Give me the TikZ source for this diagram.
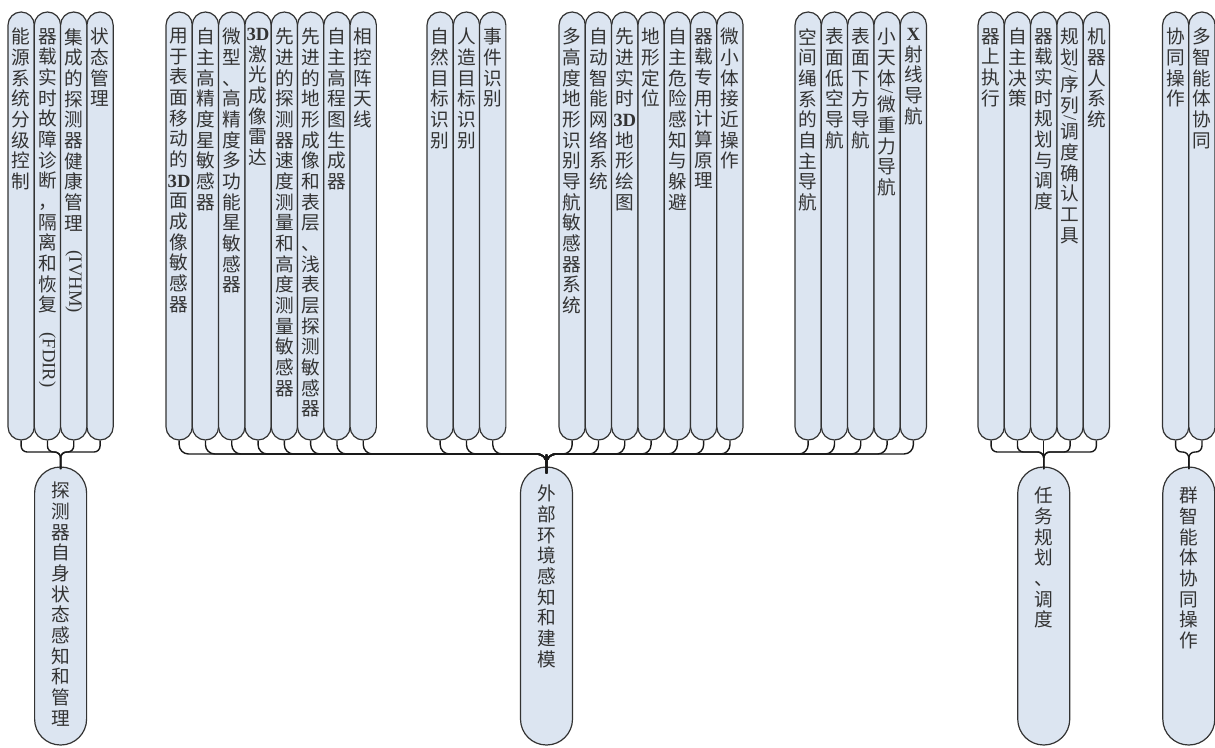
\documentclass[tikz,border=0pt]{standalone}
\usepackage{fontspec}
\usepackage{graphicx}
\setmainfont{Noto Sans CJK SC}
\newfontfamily\lat{Liberation Serif}
\definecolor{pillfill}{HTML}{DCE5F1}
\definecolor{pillline}{HTML}{333333}
\definecolor{txtcol}{HTML}{333333}
\ExplSyntaxOn
\cs_new_protected:Npn \__vt_item:n #1
  {
    \tl_if_eq:nnTF {#1} {/}
      {
        \skip_vertical:n {-13pt}
        \hbox_to_wd:nn {20pt} { \hss \rotatebox{-90}{\lat /} \hss }
        \skip_vertical:n {2.2pt}
      }
      { \hbox_to_wd:nn {20pt} { \hss #1 \hss } }
  }
\NewDocumentCommand \vt { m }
  {
    \vbox:n
      {
        \baselineskip=15.5pt \lineskiplimit=-100pt \lineskip=0pt \relax
        \tl_map_inline:nn {#1} { \__vt_item:n {##1} }
      }
  }
\ExplSyntaxOff
\begin{document}
\begin{tikzpicture}[x=0.75pt,y=-0.75pt,
  pill/.style={draw=pillline, fill=pillfill, line width=0.9pt, minimum width=19.7pt,
    minimum height=321pt, rounded corners=9.8pt, inner sep=0pt},
  bigpill/.style={draw=pillline, fill=pillfill, line width=0.9pt, minimum width=39pt,
    minimum height=208.5pt, rounded corners=19.4pt, inner sep=0pt},
  lbl/.style={anchor=north, inner sep=0pt, text=txtcol, font=\fontsize{14pt}{15.5pt}\selectfont},
  conn/.style={draw=black!90, line width=1.05pt}]
\useasboundingbox (0,0) rectangle (1215,747);

% ---------- top pills ----------
\foreach \n/\x in {g1a/21.15,g1b/47.45,g1c/73.75,g1d/100.05,
  g2a/179.15,g2b/205.45,g2c/231.75,g2d/258.05,g2e/284.35,g2f/310.65,g2g/336.95,g2h/363.25,
  g3a/440.15,g3b/466.45,g3c/492.75,
  g4a/572.15,g4b/598.45,g4c/624.75,g4d/651.05,g4e/677.35,g4f/703.65,g4g/729.95,
  g5a/808.15,g5b/834.45,g5c/860.75,g5d/887.05,g5e/913.35,
  g6a/991.15,g6b/1017.45,g6c/1043.75,g6d/1070.05,g6e/1096.35,
  g7a/1175.65,g7b/1201.95}
  \node[pill] (\n) at (\x,226) {};

% ---------- bottom pills ----------
\node[bigpill] (B1) at (60.6,606) {};
\node[bigpill] (B2) at (546.5,606) {};
\node[bigpill] (B3) at (1043.75,606) {};
\node[bigpill] (B4) at (1188.8,606) {};

% ---------- labels ----------
\node[lbl] (t1a) at (21.15,28) {\vt{能源系统分级控制}};
\node[lbl] (t1b) at (47.45,28) {\vt{器载实时故障诊断，隔离和恢复{\rotatebox{-90}{\lat (FDIR)}}}};
\node[lbl] (t1c) at (73.75,28) {\vt{集成的探测器健康管理{\rotatebox{-90}{\lat (IVHM)}}}};
\node[lbl] (t1d) at (100.05,28) {\vt{状态管理}};

\node[lbl] (t2a) at (179.15,28) {\vt{用于表面移动的{\lat\bfseries 3D}面成像敏感器}};
\node[lbl] (t2b) at (205.45,28) {\vt{自主高精度星敏感器}};
\node[lbl] (t2c) at (231.75,28) {\vt{微型、高精度多功能星敏感器}};
\node[lbl] (t2d) at (258.05,28) {\vt{{\lat\bfseries 3D}激光成像雷达}};
\node[lbl] (t2e) at (284.35,28) {\vt{先进的探测器速度测量和高度测量敏感器}};
\node[lbl] (t2f) at (310.65,28) {\vt{先进的地形成像和表层、浅表层探测敏感器}};
\node[lbl] (t2g) at (336.95,28) {\vt{自主高程图生成器}};
\node[lbl] (t2h) at (363.25,28) {\vt{相控阵天线}};

\node[lbl] (t3a) at (440.15,28) {\vt{自然目标识别}};
\node[lbl] (t3b) at (466.45,28) {\vt{人造目标识别}};
\node[lbl] (t3c) at (492.75,28) {\vt{事件识别}};

\node[lbl] (t4a) at (572.15,28) {\vt{多高度地形识别导航敏感器系统}};
\node[lbl] (t4b) at (598.45,28) {\vt{自动智能网络系统}};
\node[lbl] (t4c) at (624.75,28) {\vt{先进实时{\lat\bfseries 3D}地形绘图}};
\node[lbl] (t4d) at (651.05,28) {\vt{地形定位}};
\node[lbl] (t4e) at (677.35,28) {\vt{自主危险感知与躲避}};
\node[lbl] (t4f) at (703.65,28) {\vt{器载专用计算原理}};
\node[lbl] (t4g) at (729.95,28) {\vt{微小体接近操作}};

\node[lbl] (t5a) at (808.15,28) {\vt{空间绳系的自主导航}};
\node[lbl] (t5b) at (834.45,28) {\vt{表面低空导航}};
\node[lbl] (t5c) at (860.75,28) {\vt{表面下方导航}};
\node[lbl] (t5d) at (887.05,28) {\vt{小天体/微重力导航}};
\node[lbl] (t5e) at (913.35,28) {\vt{{\lat\bfseries X}射线导航}};

\node[lbl] (t6a) at (991.15,28) {\vt{器上执行}};
\node[lbl] (t6b) at (1017.45,28) {\vt{自主决策}};
\node[lbl] (t6c) at (1043.75,28) {\vt{器载实时规划与调度}};
\node[lbl] (t6d) at (1070.05,28) {\vt{规划/序列/调度确认工具}};
\node[lbl] (t6e) at (1096.35,28) {\vt{机器人系统}};

\node[lbl] (t7a) at (1175.65,28) {\vt{协同操作}};
\node[lbl] (t7b) at (1201.95,28) {\vt{多智能体协同}};

\node[lbl] (tB1) at (60.6,482) {\vt{探测器自身状态感知和管理}};
\node[lbl] (tB2) at (546.5,485) {\vt{外部环境感知和建模}};
\node[lbl] (tB3) at (1043.75,487) {\vt{任务规划、调度}};
\node[lbl] (tB4) at (1188.8,487) {\vt{群智能体协同操作}};

% ---------- connectors ----------
\coordinate (j1) at (60.6,452);   \coordinate (m1) at (60.6,463);
\coordinate (j2) at (546.5,454);  \coordinate (m2) at (546.5,464);
\coordinate (j3) at (1043.75,452); \coordinate (m3) at (1043.75,463);
\coordinate (j4) at (1188.8,452); \coordinate (m4) at (1188.8,463);

\foreach \n in {g1a,g1b,g1c,g1d}
  \draw[conn, rounded corners=4.5pt] (\n.south) |- (j1) -- (m1) -- (B1.north);
\foreach \n in {g2a,g2b,g2c,g2d,g2e,g2f,g2g,g2h,g3a,g3b,g3c,g4a,g4b,g4c,g4d,g4e,g4f,g4g,g5a,g5b,g5c,g5d,g5e}
  \draw[conn, rounded corners=7pt] (\n.south) |- (j2) -- (m2) -- (B2.north);
\foreach \n in {g6a,g6b,g6d,g6e}
  \draw[conn, rounded corners=4.5pt] (\n.south) |- (j3) -- (m3) -- (B3.north);
\draw[conn] (g6c.south) -- (B3.north);
\foreach \n in {g7a,g7b}
  \draw[conn, rounded corners=4.5pt] (\n.south) |- (j4) -- (m4) -- (B4.north);
\end{tikzpicture}
\end{document}
